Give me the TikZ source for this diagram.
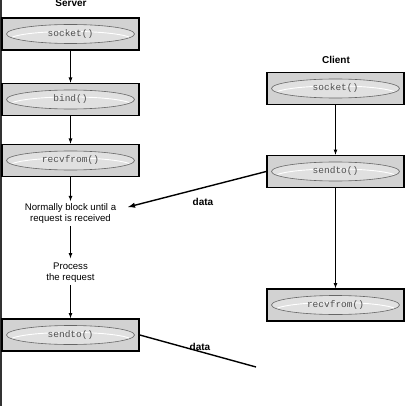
\documentclass[tikz,border=0pt]{standalone}
\usepackage{fontspec}
\setmainfont{Liberation Sans}
\setmonofont{Liberation Mono}
\usepackage{tikz}
\usetikzlibrary{calc}
\tikzset{>=latex}
\definecolor{boxgray}{HTML}{D2D2D2}
\definecolor{ovalgray}{HTML}{E0E0E0}
\definecolor{callgray}{HTML}{505050}

\begin{document}
\begin{tikzpicture}[x=1pt,y=-1pt,
		fnbox/.style={draw,line width=1.6pt,fill=boxgray,minimum width=137pt,minimum height=32pt,inner sep=0pt,
			font=\ttfamily\fontsize{9.5}{11}\selectfont,text=callgray,
			path picture={
				\fill[ovalgray,draw=gray!80!black,line width=0.6pt] (path picture bounding box.center) ellipse (64pt and 9.5pt);
				\draw[white,line width=0.9pt] ($(path picture bounding box.center)+(-58pt,-3pt)$) arc[start angle=160,end angle=20,x radius=62pt,y radius=8.5pt];
			}},
		note/.style={align=center,font=\fontsize{9.6}{11.5}\selectfont,inner sep=2pt},
		head/.style={font=\bfseries\fontsize{10}{11}\selectfont},
		flow/.style={->,line width=0.8pt},
		msg/.style={line width=1.4pt}]
		\useasboundingbox (0,0) rectangle (404,406);
		\draw[line width=1.5pt,black!80] (0.8,0) -- (0.8,406);
		% server side
		\node[head] (server) at (71,3) {Server};
		\node[fnbox] (ssock) at (70.5,34) {socket()};
		\node[fnbox] (sbind) at (70.5,99.5) {bind()};
		\node[fnbox] (srecv) at (70.5,160.5) {recvfrom()};
		\node[note] (block) at (70.5,213.5) {Normally block until a\\request is received};
		\node[note] (proc) at (70.5,272.5) {Process\\the request};
		\node[fnbox] (ssend) at (70.5,335) {sendto()};
		\draw[flow] (ssock) -- (sbind);
		\draw[flow] (sbind) -- (srecv);
		\draw[flow] (srecv) -- (block);
		\draw[flow] (block) -- ($(proc.north)+(0,-2)$);
		\draw[flow] (proc) -- (ssend);
		% client side
		\node[head] (client) at (336,60) {Client};
		\node[fnbox] (csock) at (335.5,88.5) {socket()};
		\node[fnbox] (csend) at (335.5,171.5) {sendto()};
		\node[fnbox] (crecv) at (335.5,305) {recvfrom()};
		\draw[flow] (csock) -- (csend);
		\draw[flow] (csend) -- (crecv);
		% datagrams
		\coordinate (blockin) at (128,207);
		\coordinate (replyend) at (256,367);
		\draw[msg,->] (csend.west) -- (blockin);
		\node[head] (req) at (203,202) {data};
		\draw[msg] (ssend.east) -- (replyend);
		\node[head] (reply) at (200,347) {data};
	\end{tikzpicture}
\end{document}
